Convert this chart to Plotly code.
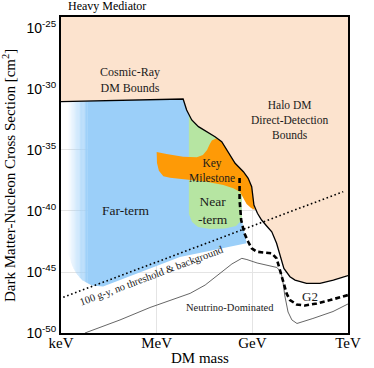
import numpy as np
import plotly.graph_objects as go

# ---------------- data (log10 of DM mass in GeV, log10 of cross section in cm^2) -------------
X_RANGE = [-6, 3]
Y_RANGE = [-50, -24.1]

mass_ticks = [-6, -3, 0, 3]
mass_labels = ["keV", "MeV", "GeV", "TeV"]
sigma_ticks = [-25, -30, -35, -40, -45, -50]
sigma_labels = ["10<sup>%d</sup>" % v for v in sigma_ticks]

# excluded-region boundary (cosmic-ray DM + halo DM direct detection)
bound_m = [-6.00, -2.17, -2.06, -1.90, -1.69, -1.43, -1.17, -0.96, -0.86, -0.75, -0.54, -0.28,
           -0.13, -0.02, 0.05, 0.16, 0.29, 0.47, 0.61, 0.76, 0.87, 0.99, 1.18, 1.34, 1.70,
           2.12, 2.54, 3.00]
bound_s = [-31.04, -30.82, -31.72, -32.54, -33.09, -33.50, -33.91, -34.32, -34.73, -35.27,
           -36.09, -36.78, -37.32, -38.01, -39.51, -40.19, -40.74, -41.29, -41.70, -42.65,
           -43.61, -44.70, -45.39, -45.66, -45.93, -45.93, -45.66, -45.29]

# far-term (blue) region
far_right_m = [-1.99, -0.33, -0.33, -0.18]
far_right_s = [-32.13, -38.28, -40.74, -42.65]
far_bot_m = [-5.75, -5.66, -5.53, -5.34, -5.03, -4.68, -2.27, -0.18]
far_bot_s = [-43.61, -44.43, -45.08, -45.66, -46.11, -46.19, -43.77, -42.65]
far_fade = [-5.80, -5.18]

# near-term (green) region lower outline
near_left_m = -1.99
near_right_m = -0.28
near_low_m = [-0.33, -0.33, -0.51, -0.86, -1.33, -1.70, -1.89, -1.99]
near_low_s = [-38.28, -40.74, -41.23, -41.43, -41.48, -41.31, -40.90, -40.25]

# key milestone (orange) region
key_top_m = [-3.00, -2.69, -2.17, -1.74, -1.55, -1.42, -1.34, -1.27, -1.14]
key_top_s = [-35.16, -35.33, -35.55, -35.60, -35.41, -35.00, -34.55, -34.22, -34.05]
key_right_m = 0.05
key_bot_m = [0.08, -0.04, -0.18, -0.28, -0.39, -0.60, -0.91, -1.43, -1.85, -2.17, -2.58,
             -2.79, -2.93, -2.99]
key_bot_s = [-39.92, -39.75, -39.43, -38.96, -38.42, -38.14, -37.87, -37.60, -37.50, -37.40,
             -37.28, -37.15, -36.70, -36.07]

# G2 projection (dashed)
g2_m = [-0.40, -0.40, -0.35, -0.25, -0.13, -0.02, 0.14, 0.34, 0.61, 0.76, 0.87, 0.97, 1.08,
        1.18, 1.39, 1.65, 2.02, 2.44, 3.00]
g2_s = [-37.30, -39.10, -40.74, -41.83, -42.52, -43.06, -43.34, -43.42, -43.47, -43.88,
        -44.84, -45.80, -46.80, -47.30, -47.66, -47.75, -47.58, -47.30, -46.89]

# neutrino floor
nu_m = [-5.25, -4.15, -3.21, -1.95, -1.48, -1.01, -0.64, -0.33, -0.17, 0.15, 0.55, 0.77, 0.90,
        0.96, 1.02, 1.12, 1.24, 1.40, 1.90, 2.53, 3.00]
nu_s = [-50.00, -48.93, -47.91, -46.75, -46.07, -45.08, -44.34, -43.88, -43.98, -44.26,
        -44.47, -44.63, -45.00, -45.82, -46.97, -48.28, -48.93, -49.22, -48.81, -48.24, -47.62]

# 100 g-y, no threshold & background
exp100_m = [-5.93, 2.85]
exp100_s = [-47.07, -38.42]

PEACH = "#FCE3CE"
BLUE = (155, 207, 249)
GREEN = "#B6E5A2"
ORANGE = "#FE9A06"
SERIF = "Liberation Serif"
SANS = "Liberation Sans"


def P(v):
    return [10.0 ** x for x in v]


def bound_at(m):
    return float(np.interp(m, bound_m, bound_s))


def far_bot_at(m):
    return float(np.interp(m, far_bot_m, far_bot_s))


fig = go.Figure()


def poly(xs, ys, color):
    fig.add_trace(go.Scatter(x=P(xs), y=P(ys), mode="lines", fill="toself", fillcolor=color,
                             line=dict(width=0), hoverinfo="skip", showlegend=False))


# excluded (peach) region
poly(bound_m + [X_RANGE[1], X_RANGE[0]], bound_s + [Y_RANGE[1], Y_RANGE[1]], PEACH)

# far-term: faded left edge
edges = np.linspace(far_fade[0], far_fade[1], 17)
for i in range(len(edges) - 1):
    a, b = edges[i], edges[i + 1]
    alpha = ((i + 0.5) / (len(edges) - 1)) ** 1.1
    poly([a, b, b, a], [bound_at(a), bound_at(b), far_bot_at(b), far_bot_at(a)],
         "rgba(%d,%d,%d,%.3f)" % (BLUE + (alpha,)))

# far-term main body
top_m = [far_fade[1]] + [m for m in bound_m if far_fade[1] < m < far_right_m[0]]
top_s = [bound_at(m) for m in top_m]
bm = [m for m in far_bot_m if m > far_fade[1]][::-1]
bs = [far_bot_at(m) for m in bm]
poly(top_m + far_right_m + bm + [far_fade[1]],
     top_s + far_right_s + bs + [far_bot_at(far_fade[1])], "rgb(%d,%d,%d)" % BLUE)

# near-term (green)
gm = [near_left_m] + [m for m in bound_m if near_left_m < m <= near_right_m]
gs = [bound_at(m) for m in gm]
poly(gm + near_low_m, gs + near_low_s, GREEN)

# key milestone (orange)
om = [m for m in bound_m if key_top_m[-1] < m <= key_right_m]
os_ = [bound_at(m) for m in om]
poly(key_top_m + om + key_bot_m, key_top_s + os_ + key_bot_s, ORANGE)

# boundary line
fig.add_trace(go.Scatter(x=P(bound_m), y=P(bound_s), mode="lines",
                         line=dict(color="black", width=1.3), hoverinfo="skip", showlegend=False))
# neutrino floor
fig.add_trace(go.Scatter(x=P(nu_m), y=P(nu_s), mode="lines",
                         line=dict(color="#555555", width=0.9), hoverinfo="skip", showlegend=False))
# 100 g-y line
fig.add_trace(go.Scatter(x=P(exp100_m), y=P(exp100_s), mode="lines",
                         line=dict(color="black", width=1.6, dash="1.6px,2.6px"),
                         hoverinfo="skip", showlegend=False))
# G2
fig.add_trace(go.Scatter(x=P(g2_m), y=P(g2_s), mode="lines",
                         line=dict(color="black", width=2.6, dash="5px,3px"),
                         hoverinfo="skip", showlegend=False))

labels = [
    ("Cosmic-Ray<br>DM Bounds", -3.84, -29.26, 12, 0),
    ("Halo DM<br>Direct-Detection<br>Bounds", 1.18, -32.54, 11.5, 0),
    ("Key<br>Milestone", -1.27, -36.72, 11.5, 0),
    ("Far-term", -3.99, -39.92, 13.5, 0),
    ("Near<br>-term", -1.22, -40.0, 13.5, 0),
    ("G2", 1.81, -47.02, 13, 0),
    ("Neutrino-Dominated", -0.70, -47.93, 10.5, 0),
    ("100 g-y, no threshold & background", -3.15, -45.25, 10.5, -20.6),
]
for txt, x, y, size, ang in labels:
    fig.add_annotation(x=x, y=y, xref="x", yref="y", text=txt, showarrow=False,
                       xanchor="center", yanchor="middle",
                       textangle=ang, font=dict(family=SERIF, size=size, color="#1a1a1a"))

fig.add_annotation(x=0.159, y=1.034, xref="paper", yref="paper", text="Heavy Mediator",
                   xanchor="center", yanchor="middle",
                   showarrow=False, font=dict(family=SERIF, size=12, color="black"))
fig.add_annotation(x=-0.181, y=0.497, xref="paper", yref="paper", textangle=-90,
                   xanchor="center", yanchor="middle",
                   text="Dark Matter-Nucleon Cross Section [cm<sup>2</sup>]",
                   showarrow=False, font=dict(family=SERIF, size=15, color="black"))
fig.add_annotation(x=0.484, y=-0.079, xref="paper", yref="paper", text="DM mass",
                   xanchor="center", yanchor="middle",
                   showarrow=False, font=dict(family=SERIF, size=15, color="black"))

fig.update_xaxes(type="log", range=X_RANGE, tickvals=P(mass_ticks), ticktext=mass_labels,
                 showgrid=True, gridcolor="#E4E4E4", gridwidth=1, zeroline=False,
                 showline=True, linecolor="black", linewidth=2, mirror=True, ticks="",
                 ticklabelstandoff=-5,
                 tickfont=dict(family=SERIF, size=15, color="black"))
fig.update_yaxes(type="log", range=Y_RANGE, tickvals=P(sigma_ticks), ticktext=sigma_labels,
                 showgrid=True, gridcolor="#E4E4E4", gridwidth=1, zeroline=False,
                 showline=True, linecolor="black", linewidth=2, mirror=True, ticks="",
                 tickfont=dict(family=SANS, size=14, color="black"))

fig.update_layout(width=374, height=368, margin=dict(l=61, r=26, t=17, b=35),
                  plot_bgcolor="white", paper_bgcolor="white", showlegend=False)

# remove the browser's default 8px page margin so the figure fills the window exactly
fig.write_html("out.html", config={"displayModeBar": False},
               post_script="document.body.style.margin='0px';")
